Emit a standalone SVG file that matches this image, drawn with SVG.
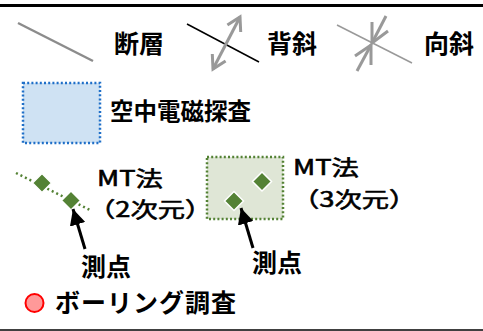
<svg xmlns="http://www.w3.org/2000/svg" width="483" height="331" viewBox="0 0 483 331">
<defs>
<style>
.lbl{font-family:"Noto Sans CJK JP","Noto Sans",sans-serif;font-weight:bold;font-size:25px;fill:#000}
.mt{font-family:"Noto Sans CJK JP","Noto Sans",sans-serif;font-weight:normal;font-size:21px;fill:#000;stroke:#000;stroke-width:0.6}
.fold{fill:none;stroke:#999;stroke-width:3;stroke-linecap:butt;stroke-linejoin:miter}
.dia{fill:#548235;stroke:#fff;stroke-width:1.5}
.ptr{stroke:#000;stroke-width:3;fill:none}
</style>
<marker id="ah" markerUnits="userSpaceOnUse" markerWidth="18" markerHeight="16" refX="16" refY="8" orient="auto">
<path d="M0,0 L16,8 L0,16 Z" fill="#000"/>
</marker>
</defs>
<rect x="0" y="0" width="483" height="331" fill="#fff"/>
<line x1="0" y1="5.5" x2="483" y2="5.5" stroke="#000" stroke-width="3"/>
<line x1="0" y1="330" x2="483" y2="330" stroke="#404040" stroke-width="2"/>

<g id="fault">
<line x1="18" y1="23" x2="93" y2="61" stroke="#8c8c8c" stroke-width="2.5"/>
<text class="lbl" x="114" y="53">断層</text>
</g>

<g id="anticline">
<line x1="187" y1="24" x2="259" y2="62" stroke="#000" stroke-width="1.5"/>
<line class="fold" x1="213" y1="69" x2="240" y2="17"/>
<polyline class="fold" points="227.4,25.1 240,17 240.7,32"/>
<polyline class="fold" points="225.6,60.9 213,69 212.3,54"/>
<text class="lbl" x="267" y="53">背斜</text>
</g>

<g id="syncline">
<line x1="337" y1="25" x2="412" y2="63" stroke="#999" stroke-width="1.5"/>
<line class="fold" x1="386" y1="16" x2="372" y2="43"/>
<polyline class="fold" points="372,22 372,43 388,31"/>
<line class="fold" x1="357" y1="71" x2="371" y2="45"/>
<polyline class="fold" points="371,65 371,45 355,56"/>
<text class="lbl" x="424" y="53">向斜</text>
</g>

<g id="aem">
<rect x="23" y="83" width="77" height="60" fill="#cfe2f3" stroke="#1f6fc8" stroke-width="2.5" stroke-dasharray="2 2.2"/>
<text class="lbl" x="110" y="120" style="font-size:23.5px">空中電磁探査</text>
</g>

<g id="mt2d">
<line x1="16" y1="173" x2="92" y2="211" stroke="#548235" stroke-width="2.5" stroke-dasharray="2 3"/>
<polygon class="dia" points="42,173.5 51.5,183 42,192.5 32.5,183"/>
<polygon class="dia" points="71,191 80.5,200.5 71,210 61.5,200.5"/>
<text class="mt" transform="translate(97,186) scale(1.3,1)">MT法</text>
<text class="mt" transform="translate(88,217) scale(1.3,1)">（2次元）</text>
</g>

<g id="mt3d">
<rect x="207" y="157" width="76" height="62" fill="#dfe6d6" stroke="#548235" stroke-width="2.5" stroke-dasharray="2 2.2"/>
<polygon class="dia" points="262,172 271.5,181.5 262,191 252.5,181.5"/>
<polygon class="dia" points="234,191.5 243.5,201 234,210.5 224.5,201"/>
<text class="mt" transform="translate(293,175) scale(1.3,1)">MT法</text>
<text class="mt" transform="translate(292,207) scale(1.3,1)">（3次元）</text>
</g>

<g id="connectors">
<line class="ptr" x1="85" y1="249" x2="73" y2="209" marker-end="url(#ah)"/>
<line class="ptr" x1="253" y1="248" x2="241" y2="208" marker-end="url(#ah)"/>
</g>

<g id="point1"><text class="lbl" x="81" y="276">測点</text></g>
<g id="point2"><text class="lbl" x="252" y="272">測点</text></g>

<g id="boring">
<circle cx="34.5" cy="303" r="9" fill="#ff9999" stroke="#ff0000" stroke-width="2"/>
<text class="lbl" x="55" y="312" style="letter-spacing:1px">ボーリング調査</text>
</g>
</svg>
